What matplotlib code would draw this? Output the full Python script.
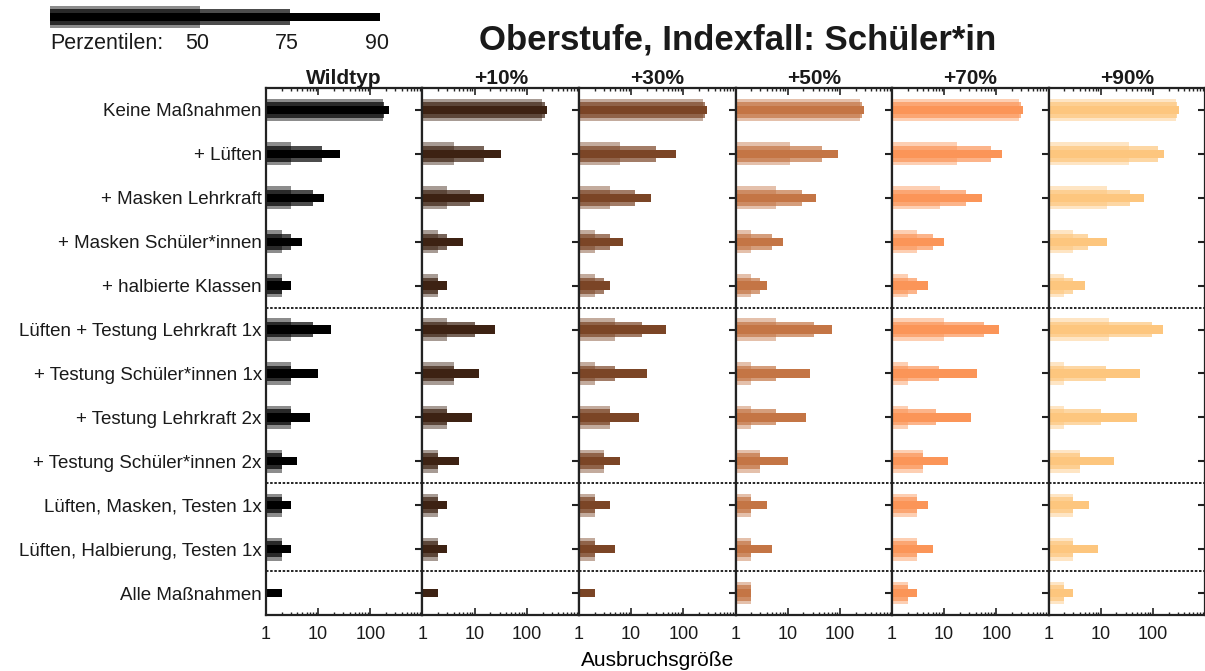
import matplotlib
matplotlib.use('Agg')
import matplotlib.pyplot as plt
from matplotlib.ticker import FixedLocator, LogLocator, NullFormatter

plt.rcParams['font.family'] = ['Liberation Sans', 'DejaVu Sans']
plt.rcParams['text.color'] = '#1a1a1a'
plt.rcParams['xtick.labelcolor'] = '#1a1a1a'
plt.rcParams['ytick.labelcolor'] = '#1a1a1a'

# data
measures = [
    'Keine Maßnahmen', '+ Lüften', '+ Masken Lehrkraft', '+ Masken Schüler*innen',
    '+ halbierte Klassen', 'Lüften + Testung Lehrkraft 1x', '+ Testung Schüler*innen 1x',
    '+ Testung Lehrkraft 2x', '+ Testung Schüler*innen 2x', 'Lüften, Masken, Testen 1x',
    'Lüften, Halbierung, Testen 1x', 'Alle Maßnahmen',
]
variants = ['Wildtyp', '+10%', '+30%', '+50%', '+70%', '+90%']
colors = ['#000000', '#3d2213', '#7b4526', '#c47545', '#fb9558', '#fdc67e']

# outbreak size percentiles, one row per variant
p50 = [
    [178, 3, 3, 2, 2, 3, 3, 3, 2, 2, 2, 1],
    [199, 4, 3, 2, 2, 3, 4, 3, 2, 2, 2, 1],
    [241, 6, 4, 2, 2, 5, 2, 4, 3, 2, 2, 1],
    [246, 11, 6, 2, 2, 6, 2, 2, 3, 2, 2, 2],
    [275, 18, 8.4, 3, 2, 10, 2, 2, 4, 3, 3, 2],
    [276, 35, 13.5, 3, 2, 14.5, 2, 2, 4, 3, 3, 2],
]
p75 = [
    [186, 12, 8, 3, 2, 8, 3, 3, 2, 2, 2, 1],
    [224, 15, 8, 3, 2, 10, 4, 3, 2, 2, 2, 1],
    [259, 30, 12, 4, 3, 16, 5, 4, 3, 2, 2, 1],
    [266, 46, 19, 5, 3, 32, 6, 6, 3, 2, 2, 2],
    [296, 80, 26, 6, 3, 57, 8, 7, 4, 3, 3, 2],
    [297, 128, 36, 5.6, 3, 98, 12.6, 10, 4, 3, 3, 2],
]
p90 = [
    [230, 26, 13, 5, 3, 18, 10, 7, 4, 3, 3, 2],
    [242, 32, 15, 6, 3, 25, 12, 9, 5, 3, 3, 2],
    [279, 71, 24, 7, 4, 47, 20, 14, 6, 4, 5, 2],
    [287, 94, 35, 8, 4, 71, 27, 22, 10, 4, 5, 2],
    [318, 128, 52, 10, 5, 115, 42, 32, 12, 5, 6, 3],
    [319, 165, 68, 13, 5, 157, 56, 49, 18, 6, 9, 3],
]
group_breaks = [4.5, 8.5, 10.5]

percentiles = [50, 75, 90]
key_len = [1.5, 2.4, 3.3]

heights = [0.52, 0.36, 0.19]
alphas = [0.45, 0.7, 1.0]

W, H = 1205, 671
fig = plt.figure(figsize=(W / 100, H / 100), dpi=100)

panel_w = 156.5
ax_bottom = 1 - 615 / H
ax_height = (615 - 88) / H
rows = list(range(len(measures)))

for i, name in enumerate(variants):
    ax = fig.add_axes([(266 + i * panel_w) / W, ax_bottom, panel_w / W, ax_height])
    for vals, h, a in zip([p50[i], p75[i], p90[i]], heights, alphas):
        ax.barh(rows, [v - 1 for v in vals], left=1, height=h,
                color=colors[i], alpha=a, linewidth=0)
    for yb in group_breaks:
        ax.axhline(yb, color='black', linestyle=(0, (1.5, 1)), linewidth=1.2)

    ax.set_xscale('log')
    ax.set_xlim(1, 1000)
    ax.set_ylim(len(measures) - 0.5, -0.5)
    ax.xaxis.set_major_locator(FixedLocator([1, 10, 100]))
    ax.set_xticklabels(['1', '10', '100'])
    ax.xaxis.set_minor_locator(LogLocator(base=10, subs=range(2, 10)))
    ax.xaxis.set_minor_formatter(NullFormatter())
    ax.tick_params(axis='x', which='both', top=True, bottom=True, direction='in',
                   labelsize=13, pad=8, color='#222222')
    ax.tick_params(axis='x', which='major', length=5, width=1.2)
    ax.tick_params(axis='x', which='minor', length=2.5, width=1)

    ax.set_yticks(rows)
    ax.set_yticklabels(measures)
    ax.tick_params(axis='y', left=False, right=True, direction='in', length=5,
                   width=1.5, labelleft=(i == 0), labelright=False, labelsize=13.5,
                   pad=3, color='#222222')

    for side in ['left', 'right', 'top', 'bottom']:
        ax.spines[side].set_linewidth(1.6)
        ax.spines[side].set_color('#222222')

    ax.set_title(name, fontsize=15, fontweight='bold', pad=3)
    if i == 2:
        ax.set_xlabel('Ausbruchsgröße', fontsize=15, labelpad=6)

fig.text(0.612, 1 - 40 / H, 'Oberstufe, Indexfall: Schüler*in', fontsize=25,
         fontweight='bold', ha='center', va='center')

# percentile key in the top left corner
kax = fig.add_axes([50 / W, 1 - 28 / H, 330 / W, 22 / H])
for L, h, a in zip(key_len, heights, alphas):
    kax.barh([0], [L], left=0, height=h / heights[0], color='black', alpha=a, linewidth=0)
kax.set_xlim(0, key_len[-1])
kax.set_ylim(-0.5, 0.5)
kax.axis('off')
kax.text(0, -1.2, 'Perzentilen:', fontsize=15.5, ha='left', va='center', clip_on=False)
for L, p in zip(key_len, percentiles):
    kax.text(L - 0.03, -1.2, str(p), fontsize=15.5, ha='center', va='center', clip_on=False)

fig.savefig('out.png', dpi=100)
